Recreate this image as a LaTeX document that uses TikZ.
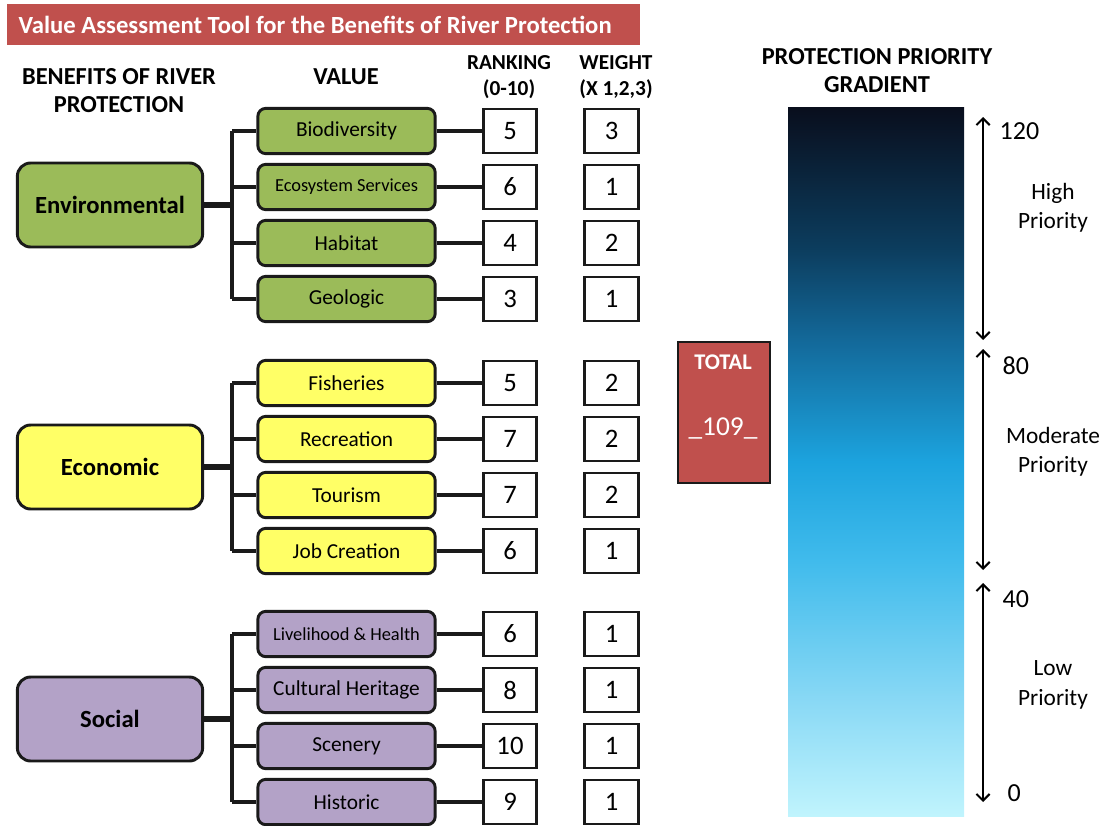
\documentclass[tikz,border=0pt]{standalone}
\usepackage{fontspec}
\setmainfont{Carlito}
\usetikzlibrary{arrows.meta}

\definecolor{envgreen}{HTML}{9BBB59}
\definecolor{ecoyellow}{HTML}{FFFF66}
\definecolor{socpurple}{HTML}{B3A2C7}
\definecolor{brick}{HTML}{C0504D}
\definecolor{edge}{HTML}{1A1A1A}
\definecolor{g0}{HTML}{C0F4FD}
\definecolor{g1}{HTML}{8AD9F5}
\definecolor{g2}{HTML}{40BBEC}
\definecolor{g3}{HTML}{1CA3DE}
\definecolor{g4}{HTML}{13699A}
\definecolor{g5}{HTML}{0C3D5E}
\definecolor{g6}{HTML}{090E1D}

% vertical colour ramp for the priority bar (path fills 25bp..75bp)
\pgfdeclareverticalshading{priority}{100bp}{%
  color(0bp)=(g0); color(25bp)=(g0); color(33bp)=(g1); color(43bp)=(g2);
  color(50bp)=(g3); color(58.5bp)=(g4); color(65bp)=(g5); color(75bp)=(g6);
  color(100bp)=(g6)}

\tikzset{
  catbox/.style={draw=edge, line width=2.2pt, rounded corners=10pt,
    minimum width=139pt, minimum height=63pt, inner sep=0pt,
    font=\fontsize{18.5}{20}\selectfont\bfseries},
  valbox/.style={draw=edge, line width=2.2pt, rounded corners=6pt,
    minimum width=133pt, minimum height=34pt, inner sep=0pt,
    font=\fontsize{16}{18}\selectfont},
  small/.style={font=\fontsize{13.8}{16}\selectfont},
  numbox/.style={draw=edge, line width=2.2pt, fill=white,
    minimum width=40pt, minimum height=33pt, inner sep=0pt,
    font=\fontsize{20}{22}\selectfont},
  head/.style={align=center, font=\fontsize{18.3}{21}\selectfont\bfseries},
  colhead/.style={align=center, font=\fontsize{16}{20}\selectfont\bfseries},
  link/.style={draw=edge, line width=2.4pt},
  trunk/.style={draw=edge, line width=3.8pt},
  scalearrow/.style={draw=black, line width=1.5pt,
    {Straight Barb[length=5pt,width=10pt]}-{Straight Barb[length=5pt,width=10pt]}},
  numlabel/.style={anchor=west, font=\fontsize{19.5}{22}\selectfont},
  zonelabel/.style={align=center, font=\fontsize{17.5}{22}\selectfont},
}

\begin{document}
\begin{tikzpicture}[x=0.75pt, y=-0.75pt]
\useasboundingbox (0,0) rectangle (1105,825);

% title banner
\node[fill=brick, minimum width=474.75pt, minimum height=30.75pt, inner sep=0pt,
      anchor=north west] (banner) at (7,4) {};
\node[anchor=west, text=white, font=\fontsize{18.5}{21}\selectfont\bfseries] (title)
  at (14,25) {Value Assessment Tool for the Benefits of River Protection};

% column headings
\node[head] (hbenefit) at (119,91) {BENEFITS OF RIVER\\PROTECTION};
\node[head] (hvalue) at (346,77) {VALUE};
\node[colhead] (hrank) at (509,77) {RANKING\\(0-10)};
\node[colhead] (hweight) at (616,77) {WEIGHT\\(X 1,2,3)};
\node[head] (hgrad) at (877,71) {PROTECTION PRIORITY\\GRADIENT};

% branching bus for the value boxes
\coordinate (bus) at (232,0);

% benefit categories
\node[catbox, fill=envgreen] (env) at (110,205) {Environmental};
\node[catbox, fill=ecoyellow] (eco) at (110,467) {Economic};
\node[catbox, fill=socpurple] (soc) at (110,719) {Social};

% values, rankings and weights
\foreach \i/\col/\lab/\st/\y/\r/\w in {
   1/envgreen/Biodiversity//131/5/3,
   2/envgreen/Ecosystem Services/small/187/6/1,
   3/envgreen/Habitat//243/4/2,
   4/envgreen/Geologic//299/3/1,
   5/ecoyellow/Fisheries//383/5/2,
   6/ecoyellow/Recreation//439/7/2,
   7/ecoyellow/Tourism//495/7/2,
   8/ecoyellow/Job Creation//551/6/1,
   9/socpurple/Livelihood \& Health/small/634/6/1,
   10/socpurple/Cultural Heritage//690/8/1,
   11/socpurple/Scenery//746/10/1,
   12/socpurple/Historic//802/9/1}{
  \node[valbox, fill=\col, \st] (v\i) at (346.5,\y) {\lab};
  \node[numbox] (r\i) at (510,\y) {\r};
  \node[numbox] (w\i) at (611.5,\y) {\w};
  \draw[link] (v\i.east) -- (r\i.west);
}

% tree connectors from each category to its values
\foreach \c/\a/\b in {env/1/4, eco/5/8, soc/9/12}{
  \draw[trunk] (\c.east) -- (bus |- \c.east);
  \draw[link] (bus |- v\a.west) -- (bus |- v\b.west);
  \foreach \k in {\a,...,\b}{
    \draw[link] (bus |- v\k.west) -- (v\k.west);
  }
}

% total score
\node[draw=edge, line width=1.2pt, fill=brick, minimum width=69pt,
      minimum height=105.75pt, inner sep=0pt, anchor=north west] (total) at (677,341) {};
\node[text=white, font=\fontsize{16.8}{20}\selectfont\bfseries] (totlab) at (723,362) {TOTAL};
\node[text=white, font=\fontsize{20.5}{22}\selectfont] (totval) at (723,428) {\_109\_};

% priority gradient bar
\shade[shading=priority] (788,107) rectangle (964,816);

% scale arrows and labels
\coordinate (h1) at (983,117);  \coordinate (h2) at (983,340);
\coordinate (m1) at (983,349);  \coordinate (m2) at (983,570);
\coordinate (l1) at (983,583);  \coordinate (l2) at (983,802);
\draw[scalearrow] (h1) -- (h2);
\draw[scalearrow] (m1) -- (m2);
\draw[scalearrow] (l1) -- (l2);

\node[numlabel] (n120) at (995,131) {120};
\node[numlabel] (n80) at (998,366) {80};
\node[numlabel] (n40) at (998,599) {40};
\node[numlabel] (n0) at (1003,793) {0};
\node[zonelabel] (zhigh) at (1053,208) {High\\Priority};
\node[zonelabel] (zmod) at (1053,452) {Moderate\\Priority};
\node[zonelabel] (zlow) at (1053,685) {Low\\Priority};
\end{tikzpicture}
\end{document}
